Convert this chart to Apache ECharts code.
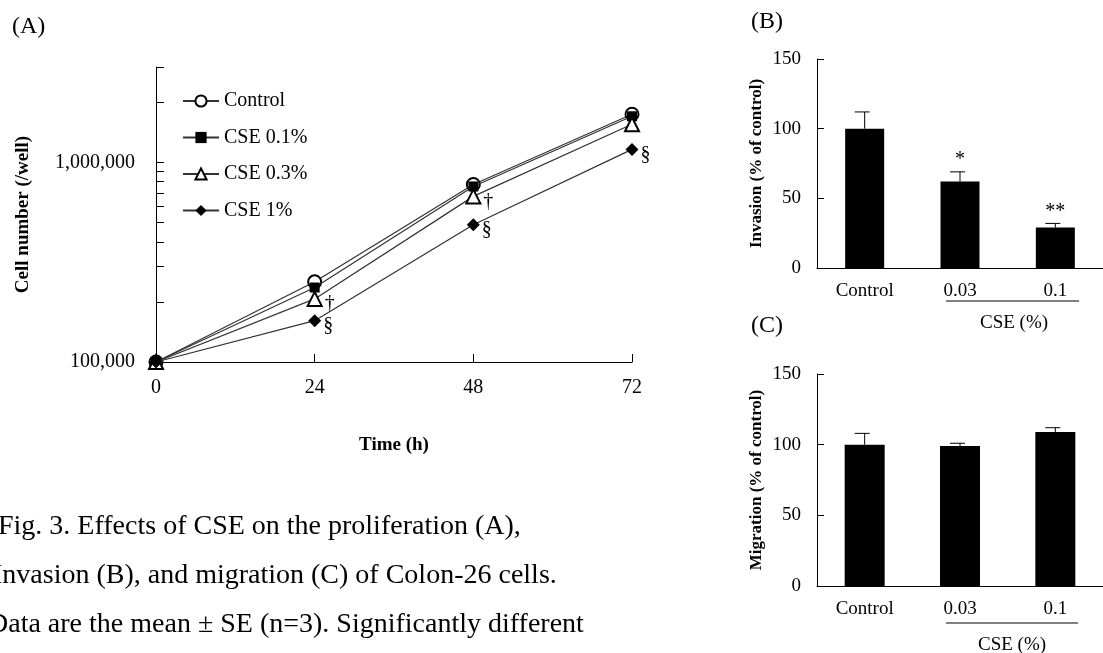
<!DOCTYPE html>
<html>
<head>
<meta charset="utf-8">
<script src="https://cdn.jsdelivr.net/npm/echarts@6/dist/echarts.min.js"></script>
<style>
html,body{margin:0;padding:0;background:#fff;}
#main{width:1103px;height:653px;}
</style>
</head>
<body>
<div id="main"></div>
<script>
// ---------- Panel A: proliferation ----------
const hours = [0, 24, 48, 72];
const seriesNames = ['Control', 'CSE 0.1%', 'CSE 0.3%', 'CSE 1%'];
const controlCells = [100000, 252000, 774000, 1740000];
const cse01Cells = [100000, 236000, 757000, 1700000];
const cse03Cells = [100000, 207000, 675000, 1550000];
const cse1Cells = [100000, 161000, 487000, 1160000];
const cse03Marks = ['', '\u2020', '\u2020', ''];
const cse1Marks = ['', '\u00a7', '\u00a7', '\u00a7'];
const yMajorLabels = [100000, 1000000];
const yTickValues = [100000, 200000, 300000, 400000, 500000, 600000, 700000, 800000, 900000,
  1000000, 2000000, 3000000];
const xTicks = [0, 24, 48, 72];

// ---------- Panels B and C ----------
const barCategories = ['Control', '0.03', '0.1'];
const invasion = [100, 62, 29];
const invasionSE = [12, 7, 3];
const invasionSig = ['', '*', '**'];
const migration = [100, 99, 109];
const migrationSE = [8, 2, 3];
const migrationSig = ['', '', ''];
const barTicks = [0, 50, 100, 150];

const captionLines = [
  'Fig. 3. Effects of CSE on the proliferation (A),',
  'Invasion (B), and migration (C) of Colon-26 cells.',
  'Data are the mean \u00b1 SE (n=3). Significantly different'
];

const FONT = "'Liberation Serif', 'Times New Roman', serif";
const chart = echarts.init(document.getElementById('main'), null, {renderer: 'canvas'});

function lineData(vals) { return hours.map((h, i) => [h, vals[i]]); }

function markLabel(marks) {
  return {
    show: true, position: 'right', distance: 2, offset: [0, 5],
    fontFamily: FONT, fontSize: 20, color: '#000',
    formatter: p => marks[p.dataIndex]
  };
}

function errSeries(xi, yi, vals, se, sig) {
  return {
    type: 'custom', xAxisIndex: xi, yAxisIndex: yi, z: 5,
    data: vals.map((v, i) => [i, v, se[i], sig[i]]),
    renderItem: function (params, api) {
      const i = api.value(0), v = api.value(1), e = api.value(2);
      const s = sig[params.dataIndex];
      const p0 = api.coord([i, v]);
      const p1 = api.coord([i, v + e]);
      const st = {stroke: '#000', lineWidth: 1};
      const ch = [
        {type: 'line', shape: {x1: p0[0], y1: p0[1], x2: p1[0], y2: p1[1]}, style: st},
        {type: 'line', shape: {x1: p1[0] - 10, y1: p1[1], x2: p1[0] + 5, y2: p1[1]}, style: st}
      ];
      if (s) {
        ch.push({type: 'text', x: p1[0], y: p1[1] - 2,
          style: {text: s, font: '20px ' + FONT, fill: '#000', align: 'center', verticalAlign: 'bottom'}});
      }
      return {type: 'group', children: ch};
    }
  };
}

const barYAxis = (gi, name) => ({
  type: 'value', gridIndex: gi, min: 0, max: 150, interval: 50,
  name: name, nameLocation: 'middle', nameGap: 52,
  nameTextStyle: {fontFamily: FONT, fontSize: 17, fontWeight: 'bold', color: '#000'},
  axisLine: {show: true, lineStyle: {color: '#000', width: 1}},
  axisTick: {show: true, inside: true, length: 7, lineStyle: {color: '#000'}},
  axisLabel: {fontFamily: FONT, fontSize: 19, color: '#000', margin: 16},
  splitLine: {show: false}
});
const barXAxis = (gi) => ({
  type: 'category', gridIndex: gi, data: barCategories,
  axisLine: {show: true, lineStyle: {color: '#000', width: 1}},
  axisTick: {show: false},
  axisLabel: {fontFamily: FONT, fontSize: 19, color: '#000', margin: 14}
});

const option = {
  animation: false,
  backgroundColor: '#fff',
  textStyle: {fontFamily: FONT},
  grid: [
    {left: 156, top: 67, width: 476, height: 295},
    {left: 817, top: 59, width: 294, height: 209},
    {left: 817, top: 374, width: 294, height: 212}
  ],
  legend: {
    left: 177, top: 86, orient: 'vertical', itemWidth: 36, itemHeight: 14, itemGap: 16.5,
    textStyle: {fontFamily: FONT, fontSize: 20, color: '#000'},
    data: seriesNames
  },
  xAxis: [
    {type: 'value', gridIndex: 0, min: 0, max: 72, interval: 24,
      name: 'Time (h)', nameLocation: 'middle', nameGap: 74,
      nameTextStyle: {fontFamily: FONT, fontSize: 19, fontWeight: 'bold', color: '#000'},
      axisLine: {lineStyle: {color: '#000', width: 1}},
      axisTick: {inside: true, length: 8, lineStyle: {color: '#000'}},
      axisLabel: {fontFamily: FONT, fontSize: 20, color: '#000', margin: 16},
      splitLine: {show: false}},
    barXAxis(1), barXAxis(2)
  ],
  yAxis: [
    {type: 'log', logBase: 10, gridIndex: 0, min: 100000, max: 3000000,
      name: 'Cell number (/well)', nameLocation: 'middle', nameGap: 123,
      nameTextStyle: {fontFamily: FONT, fontSize: 19, fontWeight: 'bold', color: '#000'},
      axisLine: {show: true, lineStyle: {color: '#000', width: 1}},
      axisTick: {show: false},
      axisLabel: {fontFamily: FONT, fontSize: 20, color: '#000', margin: 21,
        formatter: v => {
          const m = yMajorLabels.find(t => Math.abs(t - v) / t < 1e-6);
          return m ? m.toLocaleString('en-US') : '';
        }},
      splitLine: {show: false}, minorSplitLine: {show: false}},
    {type: 'value', gridIndex: 0, min: 5, max: Math.log10(3000000), position: 'left',
      axisLine: {show: false},
      axisTick: {show: true, inside: true, length: 8, lineStyle: {color: '#000'},
        customValues: yTickValues.map(v => Math.log10(v))},
      axisLabel: {show: false}, splitLine: {show: false}},
    barYAxis(1, 'Invasion (% of control)'),
    barYAxis(2, 'Migration (% of control)')
  ],
  series: [
    {name: seriesNames[0], type: 'line', xAxisIndex: 0, yAxisIndex: 0, data: lineData(controlCells),
      symbol: 'emptyCircle', symbolSize: 13, z: 2,
      lineStyle: {color: '#333', width: 1.2}, itemStyle: {color: '#000', borderWidth: 1}},
    {name: seriesNames[1], type: 'line', xAxisIndex: 0, yAxisIndex: 0, data: lineData(cse01Cells),
      symbol: 'rect', symbolSize: 10, z: 3,
      lineStyle: {color: '#333', width: 1.2}, itemStyle: {color: '#000'}},
    {name: seriesNames[2], type: 'line', xAxisIndex: 0, yAxisIndex: 0, data: lineData(cse03Cells),
      symbol: 'emptyTriangle', symbolSize: 14, z: 4,
      lineStyle: {color: '#333', width: 1.2}, itemStyle: {color: '#000', borderWidth: 1},
      label: markLabel(cse03Marks)},
    {name: seriesNames[3], type: 'line', xAxisIndex: 0, yAxisIndex: 0, data: lineData(cse1Cells),
      symbol: 'diamond', symbolSize: 13, z: 5,
      lineStyle: {color: '#333', width: 1.2}, itemStyle: {color: '#000'},
      label: markLabel(cse1Marks)},
    {type: 'bar', xAxisIndex: 1, yAxisIndex: 2, data: invasion, barWidth: 39,
      itemStyle: {color: '#000'}},
    errSeries(1, 2, invasion, invasionSE, invasionSig),
    {type: 'bar', xAxisIndex: 2, yAxisIndex: 3, data: migration, barWidth: 40,
      itemStyle: {color: '#000'}},
    errSeries(2, 3, migration, migrationSE, migrationSig)
  ],
  graphic: [
    {type: 'text', left: 12, top: 15, style: {text: '(A)', font: '24px ' + FONT, fill: '#000'}},
    {type: 'text', left: 751, top: 10, style: {text: '(B)', font: '24px ' + FONT, fill: '#000'}},
    {type: 'text', left: 751, top: 314, style: {text: '(C)', font: '24px ' + FONT, fill: '#000'}},
    {type: 'line', shape: {x1: 946, y1: 301, x2: 1079, y2: 301}, style: {stroke: '#000', lineWidth: 1}},
    {type: 'text', x: 1014, y: 323, style: {text: 'CSE (%)', font: '19px ' + FONT, fill: '#000',
      align: 'center', verticalAlign: 'middle'}},
    {type: 'line', shape: {x1: 946, y1: 623, x2: 1078, y2: 623}, style: {stroke: '#000', lineWidth: 1}},
    {type: 'text', x: 1012, y: 645, style: {text: 'CSE (%)', font: '19px ' + FONT, fill: '#000',
      align: 'center', verticalAlign: 'middle'}},
    {type: 'text', x: -2, y: 527, style: {text: captionLines[0], font: '28px ' + FONT, fill: '#000', verticalAlign: 'middle'}},
    {type: 'text', x: -7, y: 576, style: {text: captionLines[1], font: '28px ' + FONT, fill: '#000', verticalAlign: 'middle'}},
    {type: 'text', x: -12, y: 625, style: {text: captionLines[2], font: '28px ' + FONT, fill: '#000', verticalAlign: 'middle'}}
  ]
};
chart.setOption(option);
</script>
</body>
</html>
